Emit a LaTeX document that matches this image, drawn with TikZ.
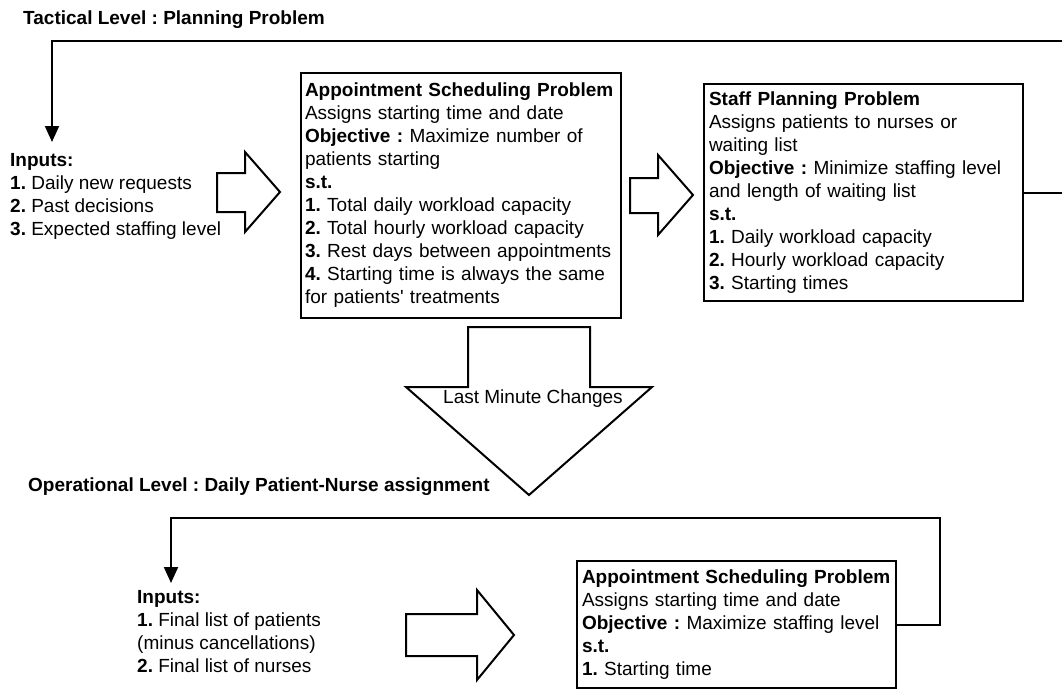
\documentclass[tikz,border=0pt]{standalone}
\usepackage{fontspec}
\setmainfont{Liberation Sans}[Ligatures=TeXOff]
\frenchspacing
\usetikzlibrary{arrows.meta}
\tikzstyle{every node}=[font=\fontsize{19}{23}\selectfont]
\tikzstyle{probbox}=[draw, line width=2pt, anchor=north west, align=left, inner xsep=5pt]
\tikzstyle{inputtext}=[anchor=north west, align=left, inner xsep=0pt]
\tikzstyle{heading}=[anchor=base west, inner sep=0pt, font=\fontsize{19}{23}\selectfont\bfseries]
\tikzstyle{flow}=[line width=2pt, -{Triangle[length=16pt,width=14pt]}]
\tikzstyle{blockarrow}=[line width=2pt, line join=miter]

\begin{document}
\begin{tikzpicture}[x=1pt, y=-1pt]
    \useasboundingbox (0,0) rectangle (1062,688);
    \clip (0,0) rectangle (1062,688);
% Tactical level
    \node[heading] (tac) at (23,24) {Tactical Level : Planning Problem};
    \node[inputtext, inner ysep=11pt] (inp) at (10,142) {\textbf{Inputs:}\\
        \textbf{1.} Daily new requests\\
        \textbf{2.} Past decisions\\
        \textbf{3.} Expected staffing level};
    \node[probbox, inner xsep=4pt, text width=312pt, minimum height=245pt] (asp) at (300,72) {\textbf{Appointment Scheduling Problem}\\
        Assigns starting time and date\\
        \textbf{Objective :} Maximize number of\\
        patients starting\\
        \textbf{s.t.}\\
        \textbf{1.} Total daily workload capacity\\
        \textbf{2.} Total hourly workload capacity\\
        \textbf{3.} Rest days between appointments\\
        \textbf{4.} Starting time is always the same\\
        for patients' treatments};
    \node[probbox, text width=309pt, minimum height=217pt] (spp) at (703,83) {\textbf{Staff Planning Problem}\\
        Assigns patients to nurses or\\
        waiting list\\
        \textbf{Objective :} Minimize staffing level\\
        and length of waiting list\\
        \textbf{s.t.}\\
        \textbf{1.} Daily workload capacity\\
        \textbf{2.} Hourly workload capacity\\
        \textbf{3.} Starting times};
    \draw[blockarrow] (217,173) -- (245,173) -- (245,152) -- (280,192) -- (245,232) -- (245,212) -- (217,212) -- cycle;
    \draw[blockarrow] (630,178) -- (658,178) -- (658,155) -- (693,195) -- (658,235) -- (658,213) -- (630,213) -- cycle;
    \draw[flow] (spp.east) -- ++(60,0) |- (52,41) -- ([xshift=42pt]inp.north west);
% Last minute changes
    \draw[blockarrow] (468,327) -- (590,327) -- (590,387) -- (652,387) -- (529,495) -- (406,387) -- (468,387) -- cycle;
    \node (lmc) at (533,399) {Last Minute Changes};
% Operational level
    \node[heading] (ope) at (28,491) {Operational Level : Daily Patient-Nurse assignment};
    \node[inputtext, inner ysep=7pt] (inp2) at (137,583) {\textbf{Inputs:}\\
        \textbf{1.} Final list of patients\\
        (minus cancellations)\\
        \textbf{2.} Final list of nurses};
    \node[probbox, text width=309pt, minimum height=127pt] (asp2) at (576,560) {\textbf{Appointment Scheduling Problem}\\
        Assigns starting time and date\\
        \textbf{Objective :} Maximize staffing level\\
        \textbf{s.t.}\\
        \textbf{1.} Starting time};
    \draw[blockarrow] (406,614) -- (477,614) -- (477,590) -- (514,635) -- (477,680) -- (477,656) -- (406,656) -- cycle;
    \draw[flow] (asp2.east) -- ++(43,0) |- (171,518) -- ([xshift=34pt]inp2.north west);

\end{tikzpicture}
\end{document}
